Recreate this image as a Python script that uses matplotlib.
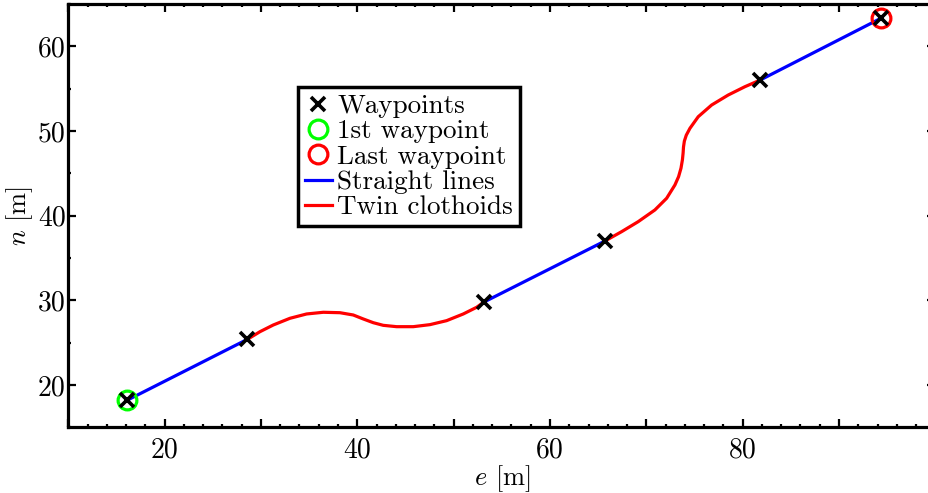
import matplotlib.pyplot as plt
import numpy as np
from matplotlib.ticker import MultipleLocator, FuncFormatter
from matplotlib.lines import Line2D

plt.rcParams['font.family'] = ['cmr10', 'DejaVu Serif']
plt.rcParams['mathtext.fontset'] = 'cm'
plt.rcParams['axes.formatter.use_mathtext'] = True

# waypoints (east, north) in metres
wp_e = [16.1, 28.6, 53.15, 65.7, 81.8, 94.35]
wp_n = [18.2, 25.4, 29.8, 37.0, 56.0, 63.3]

# twin clothoid between waypoint 2 and 3 (interior points)
clo1_e = [29.90, 31.28, 33.01, 34.74, 36.47, 38.20, 39.58, 40.62, 41.66,
          42.69, 44.08, 45.81, 47.54, 49.27, 51.00, 52.39]
clo1_n = [26.30, 27.09, 27.88, 28.39, 28.59, 28.54, 28.27, 27.80, 27.36,
          27.05, 26.89, 26.89, 27.13, 27.60, 28.39, 29.18]

# twin clothoid between waypoint 4 and 5
clo2_e = [67.44, 69.16, 70.89, 72.11, 72.97, 73.35, 73.60, 73.75, 73.82,
          73.86, 73.95, 74.15, 74.53, 75.39, 76.78, 78.50, 80.23]
clo2_n = [38.11, 39.29, 40.67, 42.05, 43.62, 44.60, 45.60, 46.60, 47.40,
          48.10, 48.80, 49.50, 50.31, 51.68, 53.06, 54.24, 55.22]

fig = plt.figure(figsize=(9.29, 4.93), dpi=100)
ax = fig.add_axes([0.0735, 0.1331, 0.9333, 0.859])

lw = 2.3
# straight segments
for i in (0, 2, 4):
    ax.plot(wp_e[i:i + 2], wp_n[i:i + 2], color='#0000ff', lw=lw, zorder=2)

# clothoids, joined to their waypoints
ax.plot([wp_e[1]] + clo1_e + [wp_e[2]], [wp_n[1]] + clo1_n + [wp_n[2]],
        color='#ff0000', lw=lw, zorder=2)
ax.plot([wp_e[3]] + clo2_e + [wp_e[4]], [wp_n[3]] + clo2_n + [wp_n[4]],
        color='#ff0000', lw=lw, zorder=2)

ax.plot(wp_e[0], wp_n[0], 'o', mfc='none', mec='#00ff00', ms=13.5, mew=2.3, zorder=3)
ax.plot(wp_e[-1], wp_n[-1], 'o', mfc='none', mec='#ff0000', ms=13.5, mew=2.3, zorder=3)
ax.plot(wp_e, wp_n, 'x', color='k', ms=10, mew=2.6, ls='none', zorder=4)

ax.set_xlim(10, 100)
ax.set_ylim(15, 65)

ax.xaxis.set_major_locator(MultipleLocator(10))
ax.xaxis.set_minor_locator(MultipleLocator(2))
ax.xaxis.set_major_formatter(FuncFormatter(lambda v, p: '%d' % v if v % 20 == 0 and 10 < v < 100 else ''))
ax.yaxis.set_major_locator(MultipleLocator(10))
ax.yaxis.set_minor_locator(MultipleLocator(5))
ax.yaxis.set_major_formatter(FuncFormatter(lambda v, p: '%d' % v if 15 < v < 65 else ''))

ax.tick_params(which='both', direction='in', top=True, right=True, width=1.6)
ax.tick_params(which='major', length=5.5)
ax.tick_params(which='minor', length=2.5)
ax.tick_params(axis='x', which='major', labelsize=20, pad=7)
ax.tick_params(axis='y', which='major', labelsize=20, pad=2)

for s in ax.spines.values():
    s.set_linewidth(2.3)

ax.set_xlabel(r'$e$ [m]', fontsize=19, labelpad=0)
ax.set_ylabel(r'$n$ [m]', fontsize=19, labelpad=2)

handles = [
    Line2D([], [], marker='x', color='k', ls='none', ms=10, mew=2.6),
    Line2D([], [], marker='o', mfc='none', mec='#00ff00', ls='none', ms=13.5, mew=2.3),
    Line2D([], [], marker='o', mfc='none', mec='#ff0000', ls='none', ms=13.5, mew=2.3),
    Line2D([], [], color='#0000ff', lw=lw),
    Line2D([], [], color='#ff0000', lw=lw),
]
labels = ['Waypoints', '1st waypoint', 'Last waypoint', 'Straight lines', 'Twin clothoids']
leg = ax.legend(handles, labels, loc='upper left', bbox_to_anchor=(0.265, 0.803),
                borderaxespad=0, fontsize=19.5, handlelength=1.0, handletextpad=0.2,
                labelspacing=0.05, borderpad=0.25, fancybox=False, framealpha=1,
                edgecolor='k')
leg.get_frame().set_linewidth(2.5)

fig.savefig('out.png', dpi=100)
